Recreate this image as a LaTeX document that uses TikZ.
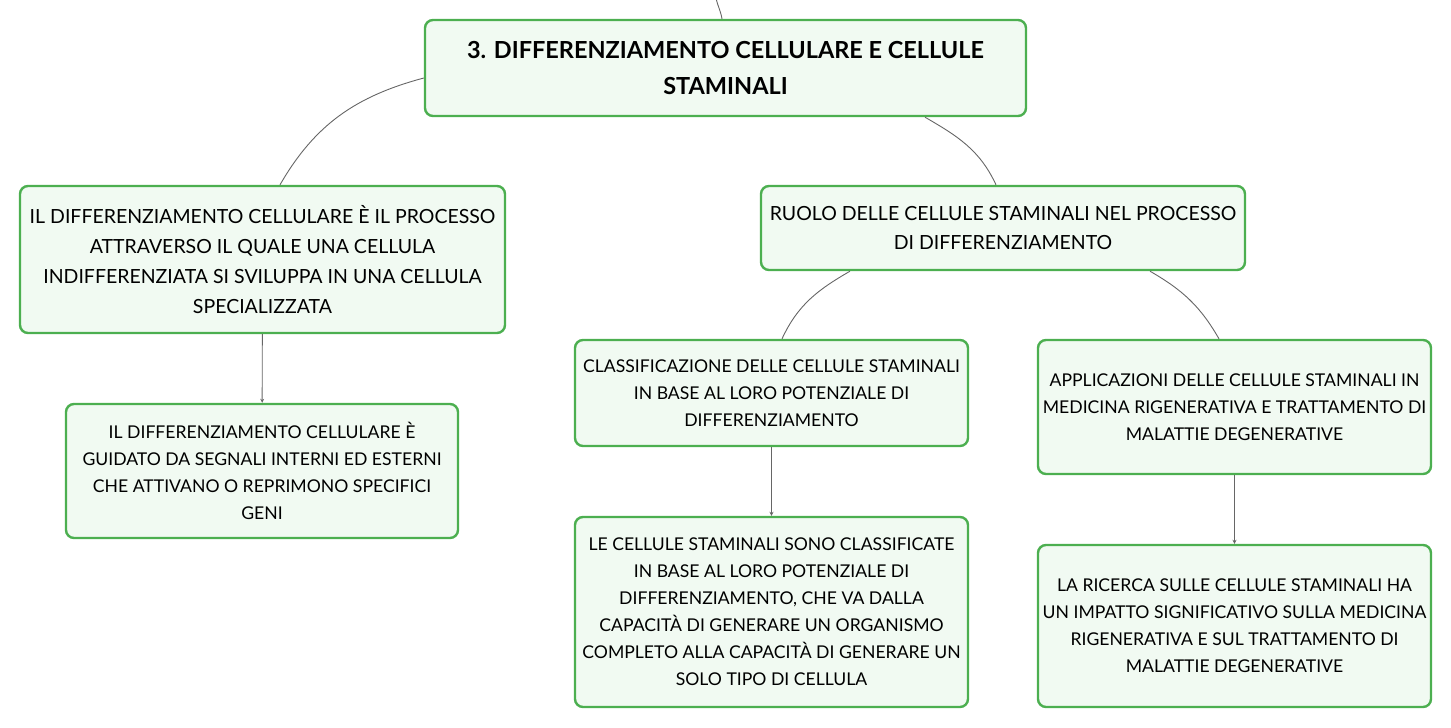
\documentclass[tikz,border=0pt]{standalone}
\usepackage{fontspec}
\setmainfont{Lato}
\usetikzlibrary{arrows.meta}
\definecolor{boxline}{HTML}{4CAF50}
\definecolor{boxfill}{HTML}{F1FAF2}
\definecolor{wire}{HTML}{666666}
\tikzset{
  topic/.style={draw=boxline, fill=boxfill, line width=2.4pt, rounded corners=8pt,
    align=center, inner sep=0pt, font=\fontsize{17.6}{27}\selectfont},
  link/.style={draw=wire, line width=0.9pt},
  arr/.style={link, -{Stealth[length=4pt, width=4pt]}}
}
\begin{document}
\begin{tikzpicture}[x=1pt, y=-1pt]
\useasboundingbox (0,0) rectangle (1451,728);
\node[topic, minimum width=601pt, minimum height=96pt, font=\fontsize{23.5}{36}\selectfont\bfseries] (main) at (725.5,68)
  {3. DIFFERENZIAMENTO CELLULARE E CELLULE\\STAMINALI};
\node[topic, minimum width=485pt, minimum height=147pt, font=\fontsize{19.5}{30}\selectfont] (def) at (262.5,259.5)
  {IL DIFFERENZIAMENTO CELLULARE È IL PROCESSO\\ATTRAVERSO IL QUALE UNA CELLULA\\INDIFFERENZIATA SI SVILUPPA IN UNA CELLULA\\SPECIALIZZATA};
\node[topic, minimum width=392pt, minimum height=134pt] (geni) at (262,471)
  {IL DIFFERENZIAMENTO CELLULARE È\\GUIDATO DA SEGNALI INTERNI ED ESTERNI\\CHE ATTIVANO O REPRIMONO SPECIFICI\\GENI};
\node[topic, minimum width=484pt, minimum height=84pt, font=\fontsize{19.5}{29}\selectfont] (ruolo) at (1003,228)
  {RUOLO DELLE CELLULE STAMINALI NEL PROCESSO\\DI DIFFERENZIAMENTO};
\node[topic, minimum width=393pt, minimum height=106pt] (classi) at (771.5,393)
  {CLASSIFICAZIONE DELLE CELLULE STAMINALI\\IN BASE AL LORO POTENZIALE DI\\DIFFERENZIAMENTO};
\node[topic, minimum width=393pt, minimum height=190pt] (pot) at (771.5,612)
  {LE CELLULE STAMINALI SONO CLASSIFICATE\\IN BASE AL LORO POTENZIALE DI\\DIFFERENZIAMENTO, CHE VA DALLA\\CAPACITÀ DI GENERARE UN ORGANISMO\\COMPLETO ALLA CAPACITÀ DI GENERARE UN\\SOLO TIPO DI CELLULA};
\node[topic, minimum width=393pt, minimum height=134pt] (appl) at (1234.5,407)
  {APPLICAZIONI DELLE CELLULE STAMINALI IN\\MEDICINA RIGENERATIVA E TRATTAMENTO DI\\MALATTIE DEGENERATIVE};
\node[topic, minimum width=393pt, minimum height=162pt] (ricerca) at (1234.5,626)
  {LA RICERCA SULLE CELLULE STAMINALI HA\\UN IMPATTO SIGNIFICATIVO SULLA MEDICINA\\RIGENERATIVA E SUL TRATTAMENTO DI\\MALATTIE DEGENERATIVE};
\coordinate (up) at (716,-2);
\draw[link] (up) to[out=-78, in=100] ([xshift=-3.5pt]main.north);
\draw[link] ([yshift=-10pt]main.west) to[out=195, in=60] ([xshift=17.5pt]def.north);
\draw[link] ([xshift=199.5pt]main.south) to[out=-30, in=115] ([xshift=-7pt]ruolo.north);
\draw[arr] (def) -- (geni);
\draw[link] ([xshift=-153pt]ruolo.south) to[out=210, in=65] ([xshift=10.5pt]classi.north);
\draw[link] ([xshift=147pt]ruolo.south) to[out=-30, in=120] ([xshift=-15.5pt]appl.north);
\draw[arr] (classi) -- (pot);
\draw[arr] (appl) -- (ricerca);
\end{tikzpicture}
\end{document}
